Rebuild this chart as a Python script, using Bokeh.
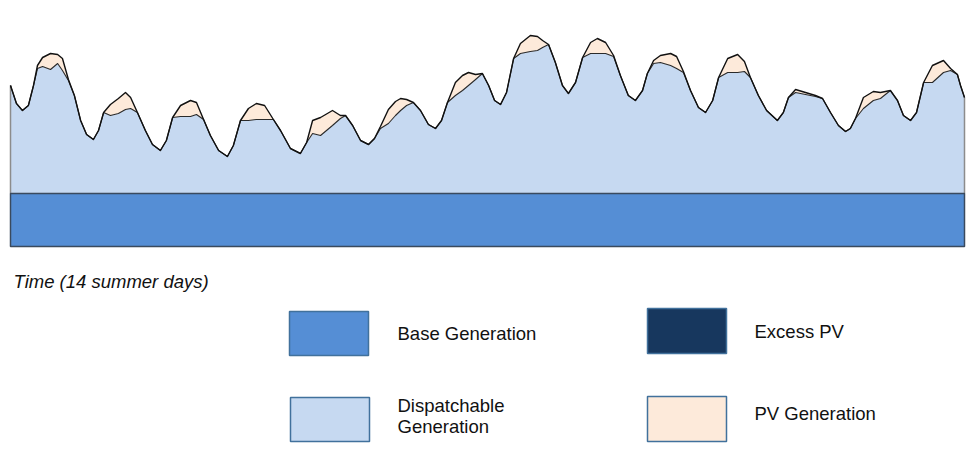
from bokeh.plotting import figure
from bokeh.models import Range1d
from bokeh.core.properties import value
from bokeh.embed import file_html
from bokeh.resources import INLINE

# ---------------- data (schematic, arbitrary units) ----------------
hours = [0, 2.1, 4.2, 6.3, 8.1, 9.5, 11.3, 14.1, 16.6, 18.3, 20.4, 22.5, 24.7, 26.8, 29.2,
         31.0, 32.8, 35.2, 38.0, 40.5, 42.3, 44.7, 47.5, 50.0, 52.8, 54.9, 57.1, 59.9, 63.4,
         65.5, 68.0, 70.4, 73.3, 76.4, 78.5, 81.0, 83.8, 86.6, 89.5, 92.6, 95.1, 98.6, 102.1,
         104.3, 106.4, 109.2, 113.4, 116.2, 118.0, 120.5, 123.3, 126.1, 128.2, 130.3, 133.1,
         135.6, 137.4, 139.5, 141.9, 144.4, 147.2, 149.7, 151.8, 153.9, 156.7, 159.2, 161.3,
         163.8, 166.2, 168.4, 170.5, 172.6, 174.7, 177.2, 179.6, 183.1, 185.6, 187.4, 189.5,
         191.9, 194.4, 196.5, 199.0, 201.5, 204.3, 206.7, 209.6, 212.4, 214.8, 217.6, 220.1,
         222.6, 224.3, 226.5, 228.9, 232.5, 234.6, 237.0, 239.5, 242.3, 244.8, 247.3, 249.4,
         252.6, 256.1, 258.5, 260.6, 263.4, 266.3, 270.1, 272.2, 274.0, 276.5, 280.0, 283.5,
         286.0, 288.8, 291.6, 294.1, 295.8, 297.6, 300.4, 303.9, 306.4, 309.9, 312.4, 314.5,
         317.0, 319.1, 321.6, 324.7, 328.6, 331.1, 333.5, 334.6, 336.0]

# total demand (top of the stack)
demand = [161, 143, 136, 141, 161, 181, 189, 193, 192, 188, 167, 151, 126, 112, 107,
          116, 134, 142, 148, 154, 149, 134, 116, 102, 96, 106, 129, 141, 146,
          144, 127, 111, 96, 90, 101, 126, 138, 143, 141, 127, 116, 98, 93,
          104, 126, 129, 136, 131, 131, 121, 106, 102, 108, 120, 137,
          145, 148, 147, 144, 136, 122, 118, 126, 144, 164, 171, 174,
          172, 173, 161, 146, 142, 154, 188, 203, 211, 210, 206, 202,
          184, 161, 153, 164, 189, 204, 208, 204, 191, 171, 151, 146,
          156, 173, 186, 191, 193, 190, 175, 156, 139, 134, 146, 169,
          188, 192, 185, 169, 151, 136, 126, 134, 149, 157, 154, 151,
          148, 134, 121, 115, 118, 128, 149, 155, 154, 156, 146, 131,
          126, 134, 164, 181, 186, 178, 172, 161, 149]

# demand met by base + dispatchable (top of dispatchable layer)
net_load = [161, 143, 136, 141, 161, 178, 180, 177, 183, 176, 166, 151, 126, 112, 107,
            116, 134, 131, 133, 137, 138, 134, 116, 102, 96, 106, 129, 130, 130,
            132, 127, 111, 96, 90, 101, 126, 126, 127, 127, 127, 116, 98, 93,
            104, 113, 111, 121, 128, 131, 121, 106, 102, 108, 118, 123,
            131, 136, 141, 144, 136, 122, 118, 126, 144, 151, 156, 161,
            167, 173, 161, 146, 142, 154, 188, 193, 195, 196, 199, 202,
            184, 161, 153, 164, 189, 193, 193, 193, 190, 171, 151, 146,
            156, 173, 183, 184, 181, 178, 174, 156, 139, 134, 146, 169,
            174, 174, 175, 169, 151, 136, 126, 134, 149, 154, 152, 150,
            148, 134, 121, 115, 118, 128, 138, 146, 148, 156, 146, 131,
            126, 134, 164, 164, 174, 176, 172, 161, 149]

base_level = 53

legend_labels = ["Base Generation", "Excess PV", "Dispatchable\nGeneration", "PV Generation"]
legend_colors = ["#558ED5", "#17375E", "#C6D9F1", "#FDEADA"]
axis_label = "Time (14 summer days)"

# ---------------- figure ----------------
W, H = 966, 460
px_per_h = 954 / 336.0
x0 = -10 / px_per_h
x1 = 336 + (W - 964) / px_per_h

p = figure(width=W, height=H, output_backend="svg", toolbar_location=None,
           x_range=Range1d(x0, x1), y_range=Range1d(246 - H, 246),
           x_axis_location=None, y_axis_location=None, min_border=0,
           background_fill_color="white", border_fill_color="white")
p.outline_line_color = None
p.grid.visible = False
p.extra_x_ranges = {"px": Range1d(0, W)}
p.extra_y_ranges = {"px": Range1d(H, 0)}

n = len(hours)
base_arr = [base_level] * n

# dispatchable layer
p.varea(x=hours, y1=base_arr, y2=net_load, fill_color="#C6D9F1")
# PV layer
p.varea(x=hours, y1=net_load, y2=demand, fill_color="#FDEADA")
# side edges of the upper area
p.segment(x0=[hours[0], hours[-1]], y0=[base_level, base_level],
          x1=[hours[0], hours[-1]], y1=[demand[0], demand[-1]],
          line_color="#8C8C8C", line_width=1.5)
# base generation block
p.quad(left=[hours[0]], right=[hours[-1]], bottom=[0], top=[base_level],
       fill_color="#558ED5", line_color="#3A4A5E", line_width=1.5)
# curves
p.line(hours, net_load, line_color="#2A2A2A", line_width=1.1, line_join="round")
p.line(hours, demand, line_color="#111111", line_width=1.4, line_join="round")

# ---------------- labels / legend (page pixel coordinates) ----------------
font = value("Liberation Sans")
p.text(x=[13], y=[281], text=[axis_label], x_range_name="px", y_range_name="px",
       text_font=font, text_font_size="18.5px", text_font_style="italic",
       text_color="#111111", text_baseline="middle", text_align="left")

box_left = [289, 647, 290, 647]
box_right = [368, 726, 369, 726]
box_top = [311, 308, 397, 396]
box_bottom = [355, 353, 441, 441]
p.quad(left=box_left, right=box_right, top=box_top, bottom=box_bottom,
       fill_color=legend_colors, line_color="#41719C", line_width=1.5,
       x_range_name="px", y_range_name="px")

p.text(x=[397, 754, 397, 754], y=[333, 331, 415, 413], text=legend_labels,
       x_range_name="px", y_range_name="px", text_font=font, text_font_size="18.5px",
       text_color="#111111", text_baseline="middle", text_align="left",
       text_line_height=1.0)

open("out.html", "w").write(file_html(p, INLINE))
